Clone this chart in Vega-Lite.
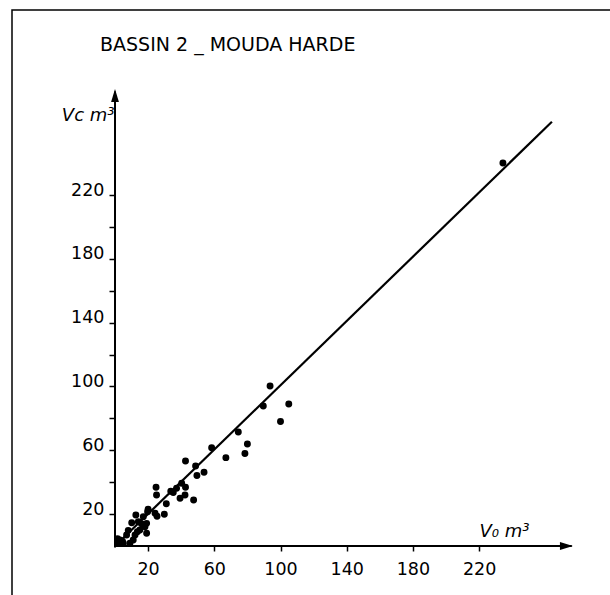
{
  "$schema": "https://vega.github.io/schema/vega-lite/v6.json",
  "width": 608,
  "height": 590,
  "autosize": {"type": "none"},
  "padding": {"left": 12, "top": 10, "right": 0, "bottom": 0},
  "background": "white",
  "config": {
    "view": {"stroke": "black", "strokeWidth": 1.5},
    "font": "DejaVu Sans"
  },
  "title": {
    "text": "BASSIN 2 _ MOUDA HARDE",
    "anchor": "start",
    "frame": "group",
    "font": "DejaVu Sans",
    "fontSize": 19,
    "fontWeight": "normal",
    "color": "black",
    "dx": 88,
    "dy": 49
  },
  "encoding": {
    "x": {
      "field": "x",
      "type": "quantitative",
      "scale": {"domain": [-62.24, 305.14], "nice": false, "zero": false},
      "axis": {
        "values": [20, 60, 100, 140, 180, 220],
        "offset": -54,
        "domain": false,
        "grid": false,
        "tickColor": "black",
        "tickSize": 5,
        "tickWidth": 1.5,
        "labelFont": "DejaVu Sans",
        "labelFontSize": 17.5,
        "labelColor": "black",
        "labelPadding": 9,
        "labelBaseline": "top",
        "labelFlush": false,
        "labelOverlap": false,
        "title": "V₀ m³",
        "titleFont": "DejaVu Sans",
        "titleFontStyle": "italic",
        "titleFontWeight": "normal",
        "titleFontSize": 18,
        "titleColor": "black",
        "titleAngle": 0,
        "titleAlign": "left",
        "titleBaseline": "alphabetic",
        "titleX": 467,
        "titleY": -10
      }
    },
    "y": {
      "field": "y",
      "type": "quantitative",
      "scale": {"domain": [-33.86, 336.05], "nice": false, "zero": false},
      "axis": {
        "values": [20, 40, 60, 80, 100, 120, 140, 160, 180, 200, 220],
        "labelExpr": "datum.value % 40 == 20 ? datum.label : ''",
        "offset": -103,
        "domain": false,
        "grid": false,
        "tickColor": "black",
        "tickSize": 6,
        "tickWidth": 1.5,
        "labelFont": "DejaVu Sans",
        "labelFontSize": 17.5,
        "labelColor": "black",
        "labelPadding": 5,
        "labelAlign": "right",
        "labelBaseline": "alphabetic",
        "labelFlush": false,
        "labelOverlap": false,
        "title": "Vc m³",
        "titleFont": "DejaVu Sans",
        "titleFontStyle": "italic",
        "titleFontWeight": "normal",
        "titleFontSize": 18,
        "titleColor": "black",
        "titleAngle": 0,
        "titleAlign": "right",
        "titleBaseline": "alphabetic",
        "titleX": -1,
        "titleY": 110
      }
    }
  },
  "layer": [
    {
      "data": {"values": [
        {"x": 0, "y": 0, "x2": 276, "y2": 0},
        {"x": 0, "y": -1, "x2": 0, "y2": 285}
      ]},
      "mark": {"type": "rule", "color": "black", "strokeWidth": 2},
      "encoding": {"x2": {"field": "x2"}, "y2": {"field": "y2"}}
    },
    {
      "data": {"values": [{"x": 0, "y": 0}, {"x": 264, "y": 266}]},
      "mark": {"type": "line", "color": "black", "strokeWidth": 2.2},
      "encoding": {}
    },
    {
      "data": {"values": [
        {"x": 93.7, "y": 100.3}, {"x": 89.6, "y": 87.8}, {"x": 105, "y": 89}, {"x": 100, "y": 78},
        {"x": 74.5, "y": 71.5}, {"x": 80, "y": 64}, {"x": 78.5, "y": 58}, {"x": 58.4, "y": 61.6},
        {"x": 67, "y": 55.4}, {"x": 42.6, "y": 53.3}, {"x": 48.7, "y": 50.2}, {"x": 49.5, "y": 44.2},
        {"x": 53.8, "y": 46.2}, {"x": 24.8, "y": 36.8}, {"x": 25.1, "y": 32}, {"x": 33.7, "y": 34.3},
        {"x": 40.3, "y": 39.3}, {"x": 42.6, "y": 36.8}, {"x": 37.2, "y": 36.2}, {"x": 35.2, "y": 33.5},
        {"x": 39.3, "y": 29.9}, {"x": 42.3, "y": 32}, {"x": 47.5, "y": 28.8}, {"x": 31, "y": 26.5},
        {"x": 25.4, "y": 18.6}, {"x": 29.8, "y": 19.9}, {"x": 20, "y": 23}, {"x": 12.6, "y": 19.4},
        {"x": 17.1, "y": 18.4}, {"x": 19.1, "y": 14.2}, {"x": 10.1, "y": 14.6}, {"x": 19.1, "y": 8},
        {"x": 8, "y": 9.8}, {"x": 12.1, "y": 6.9}, {"x": 3, "y": 3.8}, {"x": 24.2, "y": 20.5},
        {"x": 19.7, "y": 21.5}, {"x": 18.1, "y": 12.1}, {"x": 14.1, "y": 15.2}, {"x": 15, "y": 10},
        {"x": 16, "y": 14}, {"x": 7, "y": 6.9}, {"x": 11, "y": 3.8}, {"x": 2, "y": 1.7},
        {"x": 5, "y": 1.7}, {"x": 9, "y": 1.7}, {"x": 1.5, "y": 4.5}, {"x": 4.5, "y": 3},
        {"x": 13.5, "y": 9}, {"x": 234.4, "y": 240.1}
      ]},
      "mark": {"type": "point", "shape": "circle", "filled": true, "color": "black", "opacity": 1, "size": 48}
    },
    {
      "data": {"values": [{"x": 276.7, "y": 0}]},
      "mark": {"type": "point", "shape": "M0,0L-1,-0.3L-1,0.3Z", "filled": true, "color": "black", "opacity": 1, "size": 676, "strokeWidth": 0}
    },
    {
      "data": {"values": [{"x": 0, "y": 286.5}]},
      "mark": {"type": "point", "shape": "M0,0L-0.3,1L0.3,1Z", "filled": true, "color": "black", "opacity": 1, "size": 676, "strokeWidth": 0}
    }
  ]
}
